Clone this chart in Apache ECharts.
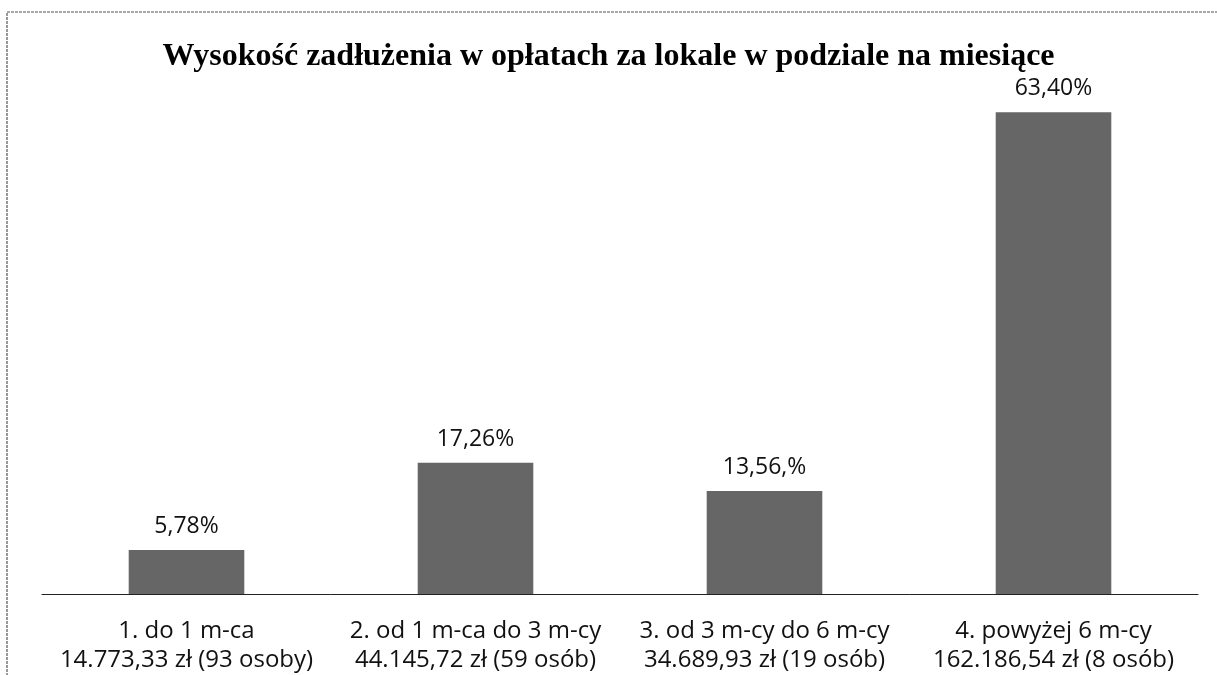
<!DOCTYPE html>
<html>
<head>
<meta charset="utf-8">
<script src="https://cdn.jsdelivr.net/npm/echarts@6/dist/echarts.min.js"></script>
<style>
html,body{margin:0;padding:0;background:#fff;}
#c{width:1217px;height:675px;}
</style>
</head>
<body>
<div id="c"></div>
<script>
const categories = [
  "1. do 1 m-ca\n14.773,33 zł (93 osoby)",
  "2. od 1 m-ca do 3 m-cy\n44.145,72 zł (59 osób)",
  "3. od 3 m-cy do 6 m-cy\n34.689,93 zł (19 osób)",
  "4. powyżej 6 m-cy\n162.186,54 zł (8 osób)"
];
const values = [5.78, 17.26, 13.56, 63.40];
const valueLabels = ["5,78%", "17,26%", "13,56,%", "63,40%"];
const titleText = "Wysokość zadłużenia w opłatach za lokale w podziale na miesiące";

const chart = echarts.init(document.getElementById('c'), null, {renderer: 'canvas'});
chart.setOption({
  backgroundColor: '#ffffff',
  animation: false,
  title: {
    text: titleText,
    left: 'center',
    top: 36,
    textStyle: {fontFamily: 'Liberation Serif', fontWeight: 'bold', fontSize: 32, color: '#000'}
  },
  graphic: [{
    type: 'rect',
    shape: {x: 7, y: 12, width: 1230, height: 700},
    style: {fill: 'none', stroke: '#555', lineWidth: 1.2, lineDash: [3, 1]},
    silent: true
  }],
  grid: {left: 42, right: 19, top: 62, bottom: 80},
  xAxis: {
    type: 'category',
    data: categories,
    axisLine: {show: true, lineStyle: {color: '#222', width: 1}},
    axisTick: {show: false},
    axisLabel: {
      margin: 23, fontFamily: 'Open Sans', fontSize: 24, color: '#111',
      lineHeight: 29, interval: 0, align: 'center'
    }
  },
  yAxis: {
    type: 'value', min: 0, max: 70,
    show: false, splitLine: {show: false}
  },
  series: [{
    type: 'bar',
    data: values,
    barWidth: '40%',
    itemStyle: {color: '#666666'},
    label: {
      show: true, position: 'top', distance: 12,
      fontFamily: 'Open Sans', fontSize: 23, color: '#111',
      formatter: p => valueLabels[p.dataIndex]
    }
  }]
});
</script>
</body>
</html>
